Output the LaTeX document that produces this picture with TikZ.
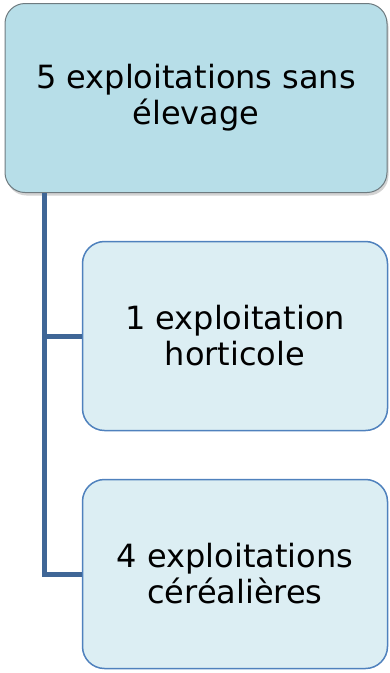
\documentclass[tikz,border=0pt]{standalone}
\usepackage{fontspec}
\setmainfont{DejaVu Sans}
\usetikzlibrary{shadows}

\definecolor{topfill}{HTML}{B7DEE8}
\definecolor{topdraw}{HTML}{6E7B80}
\definecolor{subfill}{HTML}{DCEEF3}
\definecolor{subdraw}{HTML}{4F81BD}
\definecolor{linkcol}{HTML}{3F6696}

\begin{document}
\begin{tikzpicture}[x=1pt, y=-1pt, thick]
\tikzstyle{every node}=[align=center, font=\fontsize{32}{36}\selectfont]
\tikzstyle{parent}=[draw=topdraw, fill=topfill, rounded corners=20pt,
  minimum width=382pt, minimum height=189pt, line width=1pt,
  drop shadow={shadow xshift=1.5pt, shadow yshift=-3pt, opacity=0.35}]
\tikzstyle{child}=[draw=subdraw, fill=subfill, rounded corners=22pt,
  minimum width=305pt, minimum height=189pt, line width=1.5pt]
\tikzstyle{link}=[draw=linkcol, line width=5pt]

\useasboundingbox (0,0) rectangle (390,673);

\node[parent] (0) at (196,98) {5 exploitations sans\\élevage};
\node[child] (1) at (235,336) {1 exploitation\\horticole};
\node[child] (2) at (235,574) {4 exploitations\\céréalières};

\coordinate (r) at (44.5,193);

\draw[link] (r) |- (1.west);
\draw[link] (r) |- (2.west);
\end{tikzpicture}
\end{document}
